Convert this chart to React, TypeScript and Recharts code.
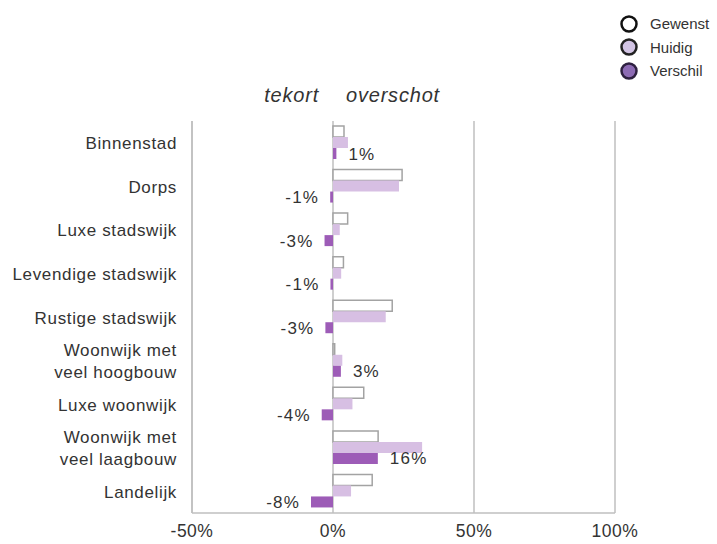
import React from "react"
import { BarChart, Bar, XAxis, YAxis, CartesianGrid, LabelList } from "recharts"

const categories = [
  "Binnenstad",
  "Dorps",
  "Luxe stadswijk",
  "Levendige stadswijk",
  "Rustige stadswijk",
  "Woonwijk met\nveel hoogbouw",
  "Luxe woonwijk",
  "Woonwijk met\nveel laagbouw",
  "Landelijk",
]
const gewenst = [3.9, 24.5, 5.2, 3.7, 21.0, 0.6, 10.9, 16.0, 13.9]
const huidig = [5.3, 23.4, 2.4, 2.9, 18.7, 3.3, 6.9, 31.6, 6.4]
const verschil = [1.2, -1.0, -3.0, -0.9, -2.7, 2.8, -4.0, 15.9, -7.8]
const xTicks = [-50, 0, 50, 100]

const FONT = '"Liberation Sans", Arial, sans-serif'
const C = {
  text: "#333333",
  grid: "#bfbfbf",
  gewenstStroke: "#a3a3a3",
  huidig: "#d7bfe3",
  verschil: "#9d5cb7",
  legHuidig: "#d2c4e4",
  legVerschil: "#8d6bb4",
}

const data = categories.map((name, i) => ({
  name,
  gewenst: gewenst[i],
  huidig: huidig[i],
  verschil: verschil[i],
}))

// y-as labels, met regelafbreking
function CategoryTick(props: any) {
  const { x, y, payload } = props
  const lines = String(payload.value).split("\n")
  const lineH = 22
  return (
    <text x={x} y={y} textAnchor="end" fill={C.text} fontSize={17} fontFamily={FONT} letterSpacing={0.65}>
      {lines.map((l, i) => (
        <tspan key={i} x={x} dy={i === 0 ? -((lines.length - 1) / 2) * lineH + 6.5 : lineH}>
          {l}
        </tspan>
      ))}
    </text>
  )
}

function VerschilLabel(props: any) {
  const { x, y, width, height, value } = props
  const v = Number(value)
  const left = Math.min(x, x + width)
  const right = Math.max(x, x + width)
  const pos = v >= 0
  return (
    <text
      x={pos ? right + 12 : left - 11}
      y={y + height / 2}
      dy={6}
      textAnchor={pos ? "start" : "end"}
      fill={C.text}
      fontSize={17}
      fontFamily={FONT}
      letterSpacing={1.2}
    >
      {`${Math.round(v)}%`}
    </text>
  )
}

const legendItems = [
  { name: "Gewenst", fill: "#ffffff", stroke: "#111111" },
  { name: "Huidig", fill: C.legHuidig, stroke: "#222222" },
  { name: "Verschil", fill: C.legVerschil, stroke: "#2e2040" },
]

export default function App() {
  return (
    <div style={{ position: "absolute", left: 0, top: 0, width: 717, height: 544, background: "#fff", fontFamily: FONT }}>
      <BarChart
        width={717}
        height={544}
        data={data}
        layout="vertical"
        margin={{ top: 121, right: 102, bottom: 0, left: 0 }}
        barSize={11}
        barGap={0}
      >
        <CartesianGrid horizontal={false} vertical stroke={C.grid} strokeWidth={1.5} />
        <XAxis
          type="number"
          domain={[-50, 100]}
          ticks={xTicks}
          height={31}
          tickLine={false}
          tickSize={0}
          tickMargin={12}
          axisLine={{ stroke: C.grid, strokeWidth: 1.5 }}
          tickFormatter={(v: number) => `${v}%`}
          tick={{ fill: C.text, fontSize: 17.5, fontFamily: FONT, letterSpacing: 0.5 }}
        />
        <YAxis
          type="category"
          dataKey="name"
          width={192}
          tickLine={false}
          tickSize={6}
          tickMargin={9}
          axisLine={{ stroke: C.grid, strokeWidth: 1.5 }}
          tick={<CategoryTick />}
          interval={0}
        />
        <Bar dataKey="gewenst" fill="#ffffff" stroke={C.gewenstStroke} strokeWidth={1.5} isAnimationActive={false} />
        <Bar dataKey="huidig" fill={C.huidig} isAnimationActive={false} />
        <Bar dataKey="verschil" fill={C.verschil} isAnimationActive={false}>
          <LabelList dataKey="verschil" content={<VerschilLabel />} />
        </Bar>
      </BarChart>

      <div style={{ position: "absolute", right: 717 - 319, top: 84, fontSize: 20, fontStyle: "italic", letterSpacing: 0.8, color: C.text }}>tekort</div>
      <div style={{ position: "absolute", left: 346, top: 84, fontSize: 20, fontStyle: "italic", letterSpacing: 0.8, color: C.text }}>overschot</div>

      <div style={{ position: "absolute", left: 620, top: 12 }}>
        {legendItems.map((it) => (
          <div key={it.name} style={{ display: "flex", alignItems: "center", height: 23.5, fontSize: 15, color: C.text }}>
            <svg width={20} height={20} style={{ marginRight: 10 }}>
              <circle cx={9} cy={10} r={7.5} fill={it.fill} stroke={it.stroke} strokeWidth={2.5} />
            </svg>
            {it.name}
          </div>
        ))}
      </div>
    </div>
  )
}
